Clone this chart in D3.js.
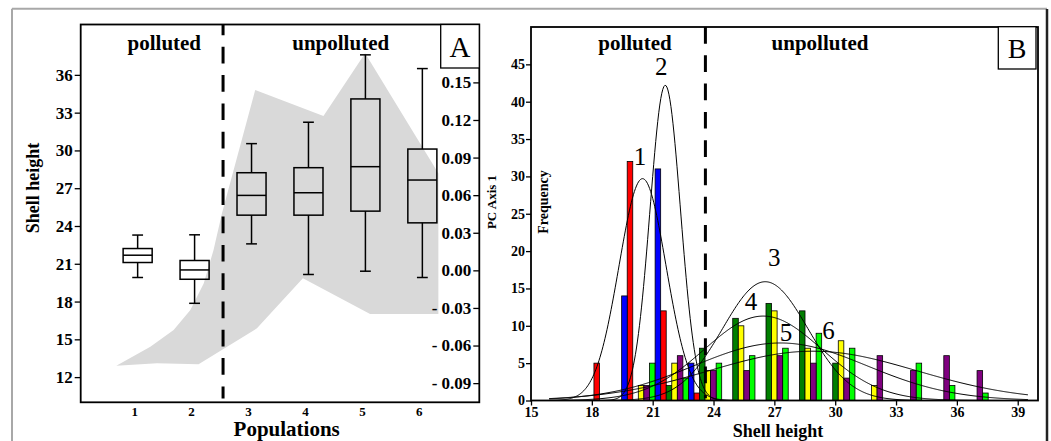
<!DOCTYPE html>
<html>
<head>
<meta charset="utf-8">
<script src="https://d3js.org/d3.v7.min.js"></script>
<style>
  html, body { margin: 0; padding: 0; background: #fff; }
  svg { display: block; }
  text { font-family: "Liberation Serif", "Times New Roman", serif; fill: #000; }
</style>
</head>
<body>
<svg id="fig" width="1051" height="441"></svg>
<script>
// ---------- Panel A: shell height box plots by population ----------
const populations = [1, 2, 3, 4, 5, 6];
const boxMin    = [19.91, 17.86, 22.58, 20.15, 20.41, 19.91];
const boxQ1     = [21.10, 19.77, 24.86, 24.86, 25.18, 24.25];
const boxMedian = [21.68, 20.51, 26.43, 26.64, 28.71, 27.65];
const boxQ3     = [22.21, 21.26, 28.23, 28.63, 34.09, 30.11];
const boxMax    = [23.28, 23.30, 30.54, 32.24, 37.59, 36.50];
const heightTicksA = [12, 15, 18, 21, 24, 27, 30, 33, 36];

// PC axis 1 envelope (upper edge left to right, lower edge right to left)
const pcUpperPop = [0.626, 1.223, 1.632, 1.926, 2.160, 2.333, 2.481, 3.065, 4.263, 4.995, 6.281];
const pcUpperVal = [-0.0761, -0.0610, -0.0476, -0.0317, -0.0104, 0.0162, 0.0455, 0.1439, 0.1231, 0.1732, 0.0774];
const pcLowerPop = [6.281, 5.082, 3.902, 3.095, 2.070, 1.340];
const pcLowerVal = [-0.0349, -0.0349, -0.0064, -0.0463, -0.0750, -0.0742];
const pcTicks = [0.15, 0.12, 0.09, 0.06, 0.03, 0.00, -0.03, -0.06, -0.09];

// ---------- Panel B: shell height frequency histograms ----------
const binStart = [17.83, 19.47, 21.12, 22.76, 24.40, 26.04, 27.69, 29.33, 30.97, 32.62, 34.26, 35.90];
const binWidth = 1.643;
const freqPop1 = [5, 32, 12, 1, 0, 0, 0, 0, 0, 0, 0, 0];
const freqPop2 = [0, 14, 31, 5, 0, 0, 0, 0, 0, 0, 0, 0];
const freqPop3 = [0, 0, 2, 7, 11, 13, 12, 5, 0, 0, 0, 0];
const freqPop4 = [0, 2, 5, 4, 10, 12, 7, 8, 2, 0, 0, 0];
const freqPop5 = [0, 5, 3, 5, 6, 7, 9, 7, 0, 5, 2, 1];
const freqPop6 = [0, 2, 6, 4, 4, 6, 5, 3, 6, 4, 6, 4];
const popColors = ["#ff0000", "#0000ff", "#007f00", "#ffff00", "#00ff00", "#800080"];
// order of the population bars inside each bin
const slotOrder = [2, 1, 3, 4, 6, 5];

// fitted normal curves, one per population
const curveMean = [20.50, 21.62, 26.55, 26.45, 27.30, 28.90];
const curveSD   = [1.16, 0.75, 2.10, 2.90, 4.25, 5.10];
const curvePeak = [29.7, 42.2, 15.9, 11.3, 7.7, 6.6];
const curveRange = [15.9, 39.5];
const curveLabelX = [20.38, 21.42, 27.00, 25.85, 27.58, 29.67];
const curveLabelY = [32.6, 44.7, 19.2, 13.2, 9.15, 9.4];

const heightTicksB = [15, 18, 21, 24, 27, 30, 33, 36, 39];
const freqTicks = [0, 5, 10, 15, 20, 25, 30, 35, 40, 45];

const svg = d3.select("#fig");

// outer figure frame
svg.append("line").attr("x1", 12).attr("x2", 1047).attr("y1", 8.7).attr("y2", 8.7)
  .attr("stroke", "#a8a8a8").attr("stroke-width", 2);
svg.append("line").attr("x1", 12).attr("x2", 12).attr("y1", 8.7).attr("y2", 441)
  .attr("stroke", "#a8a8a8").attr("stroke-width", 2);
svg.append("line").attr("x1", 1047).attr("x2", 1047).attr("y1", 9).attr("y2", 441)
  .attr("stroke", "#222").attr("stroke-width", 2.5);

// ================= Panel A =================
const A = { left: 80.7, right: 479.3, top: 24.5, bottom: 402.3 };
const xA = d3.scaleLinear().domain([0, 7]).range([A.left, A.right]);
const yA = d3.scaleLinear().domain([10, 40]).range([A.bottom, A.top]);
const yPC = d3.scaleLinear().domain([-0.1053, 0.1962]).range([A.bottom, A.top]);

const gA = svg.append("g");
const envelope = pcUpperPop.map((p, i) => [xA(p), yPC(pcUpperVal[i])])
  .concat(pcLowerPop.map((p, i) => [xA(p), yPC(pcLowerVal[i])]));
gA.append("path")
  .attr("d", d3.line()(envelope) + "Z")
  .attr("fill", "#d9d9d9").attr("stroke", "none");

// polluted / unpolluted separator
gA.append("line")
  .attr("x1", xA(2.5)).attr("x2", xA(2.5))
  .attr("y1", A.top).attr("y2", yA(10.3))
  .attr("stroke", "#000").attr("stroke-width", 3)
  .attr("stroke-dasharray", "16.7,11.6").attr("stroke-dashoffset", 6);

// box plots
const boxHalf = 0.255, capHalf = 0.095;
populations.forEach((p, i) => {
  const g = gA.append("g").attr("stroke", "#000").attr("stroke-width", 1.5).attr("fill", "none");
  g.append("line").attr("x1", xA(p)).attr("x2", xA(p)).attr("y1", yA(boxMax[i])).attr("y2", yA(boxQ3[i]));
  g.append("line").attr("x1", xA(p)).attr("x2", xA(p)).attr("y1", yA(boxQ1[i])).attr("y2", yA(boxMin[i]));
  g.append("line").attr("x1", xA(p - capHalf)).attr("x2", xA(p + capHalf)).attr("y1", yA(boxMax[i])).attr("y2", yA(boxMax[i]));
  g.append("line").attr("x1", xA(p - capHalf)).attr("x2", xA(p + capHalf)).attr("y1", yA(boxMin[i])).attr("y2", yA(boxMin[i]));
  g.append("rect")
    .attr("x", xA(p - boxHalf)).attr("y", yA(boxQ3[i]))
    .attr("width", xA(p + boxHalf) - xA(p - boxHalf))
    .attr("height", yA(boxQ1[i]) - yA(boxQ3[i]));
  g.append("line").attr("x1", xA(p - boxHalf)).attr("x2", xA(p + boxHalf)).attr("y1", yA(boxMedian[i])).attr("y2", yA(boxMedian[i]));
});

// frame of panel A
gA.append("rect").attr("x", A.left).attr("y", A.top)
  .attr("width", A.right - A.left).attr("height", A.bottom - A.top)
  .attr("fill", "none").attr("stroke", "#000").attr("stroke-width", 1.8);

// left axis: shell height
const axL = gA.append("g").attr("transform", `translate(${A.left},0)`)
  .call(d3.axisLeft(yA).tickValues(heightTicksA).tickSize(6).tickPadding(2).tickFormat(d3.format("d")));
axL.select(".domain").remove();
axL.selectAll("line").attr("stroke", "#000").attr("stroke-width", 1.3);
axL.selectAll("text").style("font-family", "Liberation Serif").style("font-weight", "bold")
  .style("font-size", "17px").attr("fill", "#000");

// right axis (inside the frame): PC axis 1
const axR = gA.append("g").attr("transform", `translate(${A.right},0)`)
  .call(d3.axisLeft(yPC).tickValues(pcTicks).tickSize(6).tickPadding(2)
    .tickFormat(d => d < 0 ? "- " + d3.format(".2f")(-d) : d3.format(".2f")(d)));
axR.select(".domain").remove();
axR.selectAll("line").attr("stroke", "#000").attr("stroke-width", 1.3);
axR.selectAll("text").style("font-family", "Liberation Serif").style("font-weight", "bold")
  .style("font-size", "17px").attr("fill", "#000");

// population labels
gA.selectAll("text.pop").data(populations).join("text")
  .attr("class", "pop")
  .attr("x", d => xA(d) - 3).attr("y", 416)
  .attr("text-anchor", "middle")
  .style("font-weight", "bold").style("font-size", "13px")
  .text(d => d);

gA.append("text").attr("x", 286.7).attr("y", 436).attr("text-anchor", "middle")
  .style("font-weight", "bold").style("font-size", "21px").text("Populations");
gA.append("text").attr("transform", "translate(39,188) rotate(-90)").attr("text-anchor", "middle")
  .style("font-weight", "bold").style("font-size", "18px").text("Shell height");
gA.append("text").attr("transform", "translate(496,202) rotate(-90)").attr("text-anchor", "middle")
  .style("font-weight", "bold").style("font-size", "13px").text("PC Axis 1");
gA.append("text").attr("x", 164.3).attr("y", 50).attr("text-anchor", "middle")
  .style("font-weight", "bold").style("font-size", "21px").text("polluted");
gA.append("text").attr("x", 340.7).attr("y", 50).attr("text-anchor", "middle")
  .style("font-weight", "bold").style("font-size", "21px").text("unpolluted");
gA.append("rect").attr("x", 440.7).attr("y", A.top).attr("width", 38.6).attr("height", 43.5)
  .attr("fill", "#fff").attr("stroke", "#000").attr("stroke-width", 1.3);
gA.append("text").attr("x", 460).attr("y", 57.3).attr("text-anchor", "middle")
  .style("font-size", "29px").text("A");

// ================= Panel B =================
const B = { left: 531, right: 1038, top: 27, bottom: 400.5 };
const xB = d3.scaleLinear().domain([15, 40]).range([B.left, B.right]);
const yB = d3.scaleLinear().domain([0, 50]).range([B.bottom, B.top]);
const slot = d3.scaleBand().domain(slotOrder).range([0, binWidth]).padding(0);

const gB = svg.append("g");
const freqByPop = [freqPop1, freqPop2, freqPop3, freqPop4, freqPop5, freqPop6];
const bars = [];
freqByPop.forEach((freq, pi) => {
  freq.forEach((f, bi) => {
    if (f > 0) bars.push({ pop: pi + 1, start: binStart[bi], f });
  });
});
gB.selectAll("rect.bar").data(bars).join("rect")
  .attr("class", "bar")
  .attr("x", d => xB(d.start + slot(d.pop)))
  .attr("width", d => xB(d.start + slot(d.pop) + slot.bandwidth()) - xB(d.start + slot(d.pop)))
  .attr("y", d => yB(d.f))
  .attr("height", d => yB(0) - yB(d.f))
  .attr("fill", d => popColors[d.pop - 1])
  .attr("stroke", "#000").attr("stroke-width", 0.8);

// fitted normal curves
const xs = d3.range(curveRange[0], curveRange[1] + 1e-9, 0.05);
const curveLine = d3.line().x(d => xB(d[0])).y(d => yB(d[1]));
curveMean.forEach((m, i) => {
  const pts = xs.map(x => [x, curvePeak[i] * Math.exp(-0.5 * Math.pow((x - m) / curveSD[i], 2))]);
  gB.append("path").attr("d", curveLine(pts))
    .attr("fill", "none").attr("stroke", "#000").attr("stroke-width", 1);
});
curveLabelX.forEach((x, i) => {
  gB.append("text").attr("x", xB(x)).attr("y", yB(curveLabelY[i]))
    .attr("text-anchor", "middle").attr("dominant-baseline", "central")
    .style("font-size", "25px").text(i + 1);
});

// separator
gB.append("line")
  .attr("x1", xB(23.6)).attr("x2", xB(23.6))
  .attr("y1", B.top).attr("y2", yB(0.3))
  .attr("stroke", "#000").attr("stroke-width", 3)
  .attr("stroke-dasharray", "16.7,11.6").attr("stroke-dashoffset", 0);

gB.append("rect").attr("x", B.left).attr("y", B.top)
  .attr("width", B.right - B.left).attr("height", B.bottom - B.top)
  .attr("fill", "none").attr("stroke", "#000").attr("stroke-width", 1.8);

const axBx = gB.append("g").attr("transform", `translate(0,${B.bottom})`)
  .call(d3.axisBottom(xB).tickValues(heightTicksB).tickSize(5).tickPadding(2).tickFormat(d3.format("d")));
axBx.select(".domain").remove();
axBx.selectAll("line").attr("stroke", "#000").attr("stroke-width", 1.3);
axBx.selectAll("text").style("font-family", "Liberation Serif").style("font-weight", "bold")
  .style("font-size", "14px").attr("fill", "#000");

const axBy = gB.append("g").attr("transform", `translate(${B.left},0)`)
  .call(d3.axisLeft(yB).tickValues(freqTicks).tickSize(5).tickPadding(1).tickFormat(d3.format("d")));
axBy.select(".domain").remove();
axBy.selectAll("line").attr("stroke", "#000").attr("stroke-width", 1.3);
axBy.selectAll("text").style("font-family", "Liberation Serif").style("font-weight", "bold")
  .style("font-size", "14px").attr("fill", "#000");

gB.append("text").attr("x", 778).attr("y", 437).attr("text-anchor", "middle")
  .style("font-weight", "bold").style("font-size", "18px").text("Shell height");
gB.append("text").attr("transform", "translate(548,202) rotate(-90)").attr("text-anchor", "middle")
  .style("font-weight", "bold").style("font-size", "14px").text("Frequency");
gB.append("text").attr("x", 635).attr("y", 50).attr("text-anchor", "middle")
  .style("font-weight", "bold").style("font-size", "21px").text("polluted");
gB.append("text").attr("x", 820).attr("y", 50).attr("text-anchor", "middle")
  .style("font-weight", "bold").style("font-size", "21px").text("unpolluted");
gB.append("rect").attr("x", 998.3).attr("y", 26.7).attr("width", 37.7).attr("height", 42.3)
  .attr("fill", "#fff").attr("stroke", "#000").attr("stroke-width", 1.3);
gB.append("text").attr("x", 1017).attr("y", 58.3).attr("text-anchor", "middle")
  .style("font-size", "28px").text("B");
</script>
</body>
</html>
